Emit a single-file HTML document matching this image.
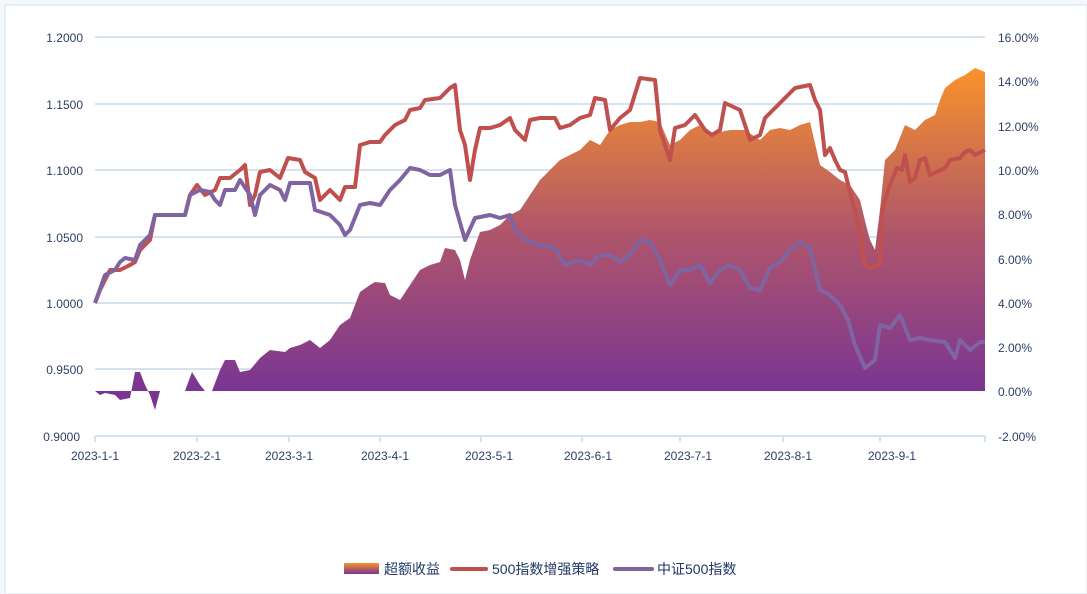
<!DOCTYPE html>
<html><head><meta charset="utf-8"><style>
body{margin:0;background:#fff;}
svg{display:block;font-family:"Liberation Sans","Noto Sans CJK SC",sans-serif;}
</style></head><body>
<svg width="1087" height="594" viewBox="0 0 1087 594" xmlns="http://www.w3.org/2000/svg">
<defs>
<linearGradient id="g" gradientUnits="userSpaceOnUse" x1="0" y1="70" x2="0" y2="391">
<stop offset="0" stop-color="#f8922a"/><stop offset="0.5" stop-color="#b0566a"/><stop offset="1" stop-color="#7a3592"/>
</linearGradient>
<linearGradient id="lg" x1="0" y1="0" x2="0" y2="1">
<stop offset="0" stop-color="#f8922a"/><stop offset="1" stop-color="#7a3592"/>
</linearGradient>
</defs>
<rect width="1087" height="594" fill="#f4f8fc"/>
<rect x="5" y="5" width="1082" height="589" fill="#fff" stroke="#d4e0ec"/>
<g stroke="#d5e3f0" stroke-width="2">
<line x1="95" y1="37" x2="985" y2="37"/><line x1="95" y1="104" x2="985" y2="104"/>
<line x1="95" y1="170" x2="985" y2="170"/><line x1="95" y1="237" x2="985" y2="237"/>
<line x1="95" y1="303" x2="985" y2="303"/><line x1="95" y1="369" x2="985" y2="369"/>
<line x1="95" y1="436" x2="985" y2="436"/>
</g>
<g stroke="#d5e3f0" stroke-width="2">
<line x1="95" y1="436" x2="95" y2="442"/><line x1="197" y1="436" x2="197" y2="442"/><line x1="289" y1="436" x2="289" y2="442"/><line x1="380" y1="436" x2="380" y2="442"/><line x1="481" y1="436" x2="481" y2="442"/><line x1="582" y1="436" x2="582" y2="442"/><line x1="680" y1="436" x2="680" y2="442"/><line x1="783" y1="436" x2="783" y2="442"/><line x1="880" y1="436" x2="880" y2="442"/><line x1="985" y1="436" x2="985" y2="442"/>
</g>
<g font-size="12" fill="#2a3f66" text-anchor="end">
<text x="83" y="42">1.2000</text><text x="83" y="109">1.1500</text><text x="83" y="175">1.1000</text><text x="83" y="242">1.0500</text><text x="83" y="308">1.0000</text><text x="83" y="374">0.9500</text><text x="80" y="441">0.9000</text>
</g>
<g font-size="12" fill="#2a3f66">
<text x="998" y="42">16.00%</text><text x="998" y="86">14.00%</text><text x="998" y="131">12.00%</text><text x="998" y="175">10.00%</text><text x="998" y="219">8.00%</text><text x="998" y="264">6.00%</text><text x="998" y="308">4.00%</text><text x="998" y="352">2.00%</text><text x="998" y="396">0.00%</text><text x="998" y="441">-2.00%</text>
</g>
<g font-size="12" fill="#2a3f66" text-anchor="middle">
<text x="95" y="460">2023-1-1</text><text x="197" y="460">2023-2-1</text><text x="289" y="460">2023-3-1</text><text x="385" y="460">2023-4-1</text><text x="489" y="460">2023-5-1</text><text x="588" y="460">2023-6-1</text><text x="688" y="460">2023-7-1</text><text x="788" y="460">2023-8-1</text><text x="892" y="460">2023-9-1</text>
</g>
<path fill="url(#g)" d="M95,391 L100,395 105,393 115,395 120,400 130,398 135,372 140,372 145,385 150,395 155,410 160,391 185,391 192,372 200,385 205,391 212,391 220,370 225,360 235,360 240,372 250,370 260,358 270,350 285,352 290,348 300,345 310,340 320,348 330,340 340,325 350,318 355,305 360,292 370,285 375,282 385,283 390,295 400,300 410,285 420,270 430,265 440,262 445,248 455,250 460,260 465,280 470,260 480,232 490,230 500,225 510,215 520,210 530,195 540,180 550,170 560,160 570,155 580,150 590,140 600,145 610,130 620,125 630,122 640,122 650,120 660,122 670,145 680,140 690,130 700,125 710,135 720,132 730,130 745,130 760,140 770,130 780,128 790,130 800,125 810,122 820,165 830,172 840,180 850,185 860,200 866,225 870,240 875,250 880,210 885,160 895,150 905,125 915,130 925,120 935,115 940,100 945,88 955,80 965,75 975,68 985,72 985,391 Z"/>
<polyline fill="none" stroke="#c0504d" stroke-width="4" stroke-linejoin="round" points="95,303 100,290 105,280 110,270 120,270 130,265 135,262 140,250 150,240 155,215 185,215 190,195 197,185 205,195 215,190 220,178 230,178 240,170 245,165 250,205 255,195 260,172 270,170 280,178 288,158 300,160 305,172 315,178 320,200 330,190 335,195 340,200 345,187 355,187 360,145 370,142 380,142 385,135 395,125 405,120 410,110 420,108 425,100 440,98 450,88 455,85 460,130 465,145 470,180 475,150 480,128 490,128 500,125 510,118 515,130 525,140 530,120 540,118 555,118 560,128 570,125 580,118 590,115 595,98 605,100 610,130 620,118 630,110 640,78 655,80 660,130 670,160 675,128 685,125 695,115 705,130 712,135 720,130 725,103 740,110 745,125 750,140 760,135 765,118 780,103 785,98 795,88 810,85 815,100 820,110 825,155 830,148 835,160 840,170 845,172 852,200 860,230 865,265 870,268 880,265 882,210 890,185 897,168 902,170 905,155 910,182 915,178 920,160 925,158 930,175 945,168 950,160 960,158 965,152 970,150 975,155 985,150"/>
<polyline fill="none" stroke="#8064a2" stroke-width="4" stroke-linejoin="round" points="95,303 105,275 115,270 120,262 125,258 135,260 140,245 150,235 155,215 185,215 190,195 200,190 210,192 215,200 220,205 225,190 235,190 240,180 250,195 255,215 260,195 270,185 280,190 285,200 290,183 310,183 315,210 330,215 340,225 345,235 350,230 360,205 370,203 380,205 390,190 400,180 410,168 420,170 430,175 440,175 450,170 455,205 465,240 475,218 490,215 500,218 510,215 515,230 525,240 540,245 555,248 565,265 580,260 590,265 600,255 610,255 620,262 630,255 640,240 650,242 660,260 670,285 680,270 690,270 700,265 710,283 720,270 730,265 740,270 750,288 760,290 770,268 780,262 790,250 800,242 810,248 820,290 830,295 840,305 848,320 855,345 865,368 875,360 880,325 890,328 900,315 910,340 920,338 930,340 945,342 955,358 960,340 970,350 980,342 985,342"/>
<g font-size="14" fill="#1f3864">
<rect x="344" y="563" width="35" height="11" fill="url(#lg)"/>
<text x="384" y="574">超额收益</text>
<line x1="452" y1="569" x2="486" y2="569" stroke="#c0504d" stroke-width="4" stroke-linecap="round"/>
<text x="492" y="574">500指数增强策略</text>
<line x1="615" y1="569" x2="652" y2="569" stroke="#8064a2" stroke-width="4" stroke-linecap="round"/>
<text x="657" y="574">中证500指数</text>
</g>
</svg>
</body></html>
